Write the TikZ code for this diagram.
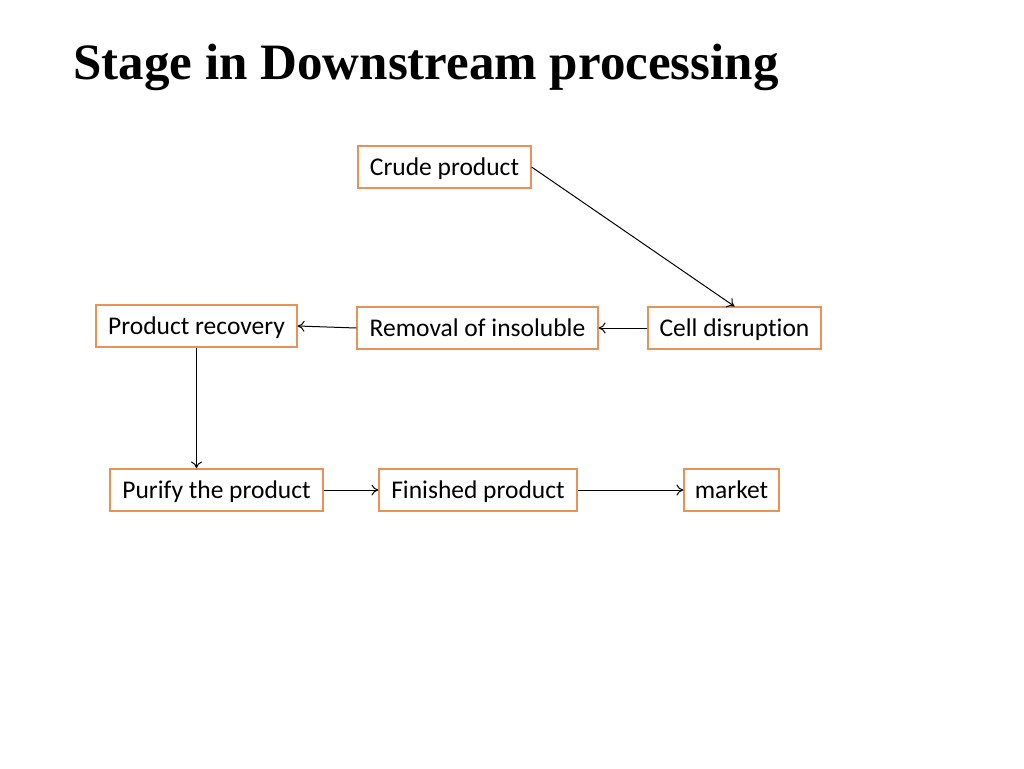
\documentclass[tikz,border=0pt]{standalone}
\usepackage{fontspec}
\setmainfont{Carlito}[RawFeature={-liga}]
\newfontfamily\titlefont{Liberation Serif}
\usetikzlibrary{arrows.meta}
\definecolor{boxorange}{RGB}{234,145,85}
\tikzset{
  stagebox/.style={draw=boxorange, line width=1.2pt, minimum height=42pt, inner sep=0pt, text height=19pt, text depth=2pt, font=\fontsize{25.5}{28}\selectfont, text=black},
  flow/.style={draw=black, line width=1pt, -{To[length=7pt,width=11pt]}}
}
\begin{document}
\begin{tikzpicture}[x=1pt,y=-1pt]
\useasboundingbox (0,0) rectangle (1024,768);
\node[anchor=west, font=\titlefont\bfseries\fontsize{51}{56}\selectfont] (title) at (70,67) {Stage in Downstream processing};
\node[stagebox, minimum width=173pt] (crude) at (444.5,167) {Crude product};
\node[stagebox, minimum width=201pt] (recovery) at (196.5,326) {Product recovery};
\node[stagebox, minimum width=241pt] (removal) at (477.5,328) {Removal of insoluble};
\node[stagebox, minimum width=173pt] (cell) at (734.5,328) {Cell disruption};
\node[stagebox, minimum width=213pt] (purify) at (216.5,490) {Purify the product};
\node[stagebox, minimum width=198pt] (finished) at (478,490) {Finished product};
\node[stagebox, minimum width=95pt] (market) at (731.5,490) {market};
\draw[flow] (crude.east) -- (cell.north);
\draw[flow] (cell.west) -- (removal.east);
\draw[flow] (removal.west) -- (recovery.east);
\draw[flow] (recovery.south) -- (recovery.south |- purify.north);
\draw[flow] (purify.east) -- (finished.west);
\draw[flow] (finished.east) -- (market.west);
\end{tikzpicture}
\end{document}
